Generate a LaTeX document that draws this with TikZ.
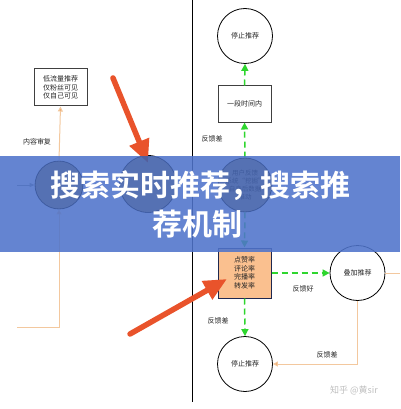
\documentclass[tikz,border=0pt]{standalone}
\usepackage{fontspec}
\setmainfont{Noto Sans CJK SC}[BoldFont={* Bold}]
\usetikzlibrary{arrows.meta,calc}
\definecolor{bannerblue}{RGB}{79,116,203}
\definecolor{dashgreen}{RGB}{46,214,46}
\definecolor{paleorange}{RGB}{243,200,158}
\definecolor{tipOrange}{RGB}{236,160,90}
\definecolor{redarrow}{RGB}{233,83,43}
\definecolor{peach}{RGB}{250,192,143}
\definecolor{navyline}{RGB}{30,40,80}
\tikzset{
  small/.style={font=\fontsize{7}{8.5}\selectfont, text=black!85},
  circ/.style={circle, draw=black, line width=0.8pt, fill=white, inner sep=0pt, minimum size=#1, small, align=center},
  boxnode/.style={rectangle, draw=black!75, line width=1pt, fill=white, inner sep=0pt, minimum width=53pt, minimum height=#1, small, align=center},
  greendash/.style={draw=dashgreen, line width=1.5pt, dash pattern=on 6pt off 4pt, -{Triangle[width=7pt,length=7pt]}},
  orangeline/.style={draw=paleorange, line width=1pt},
  orangearrow/.style={draw=paleorange, line width=1pt, -{Triangle[width=5pt,length=5pt,fill=tipOrange]}},
  redbig/.style={draw=redarrow, line width=5.5pt, line cap=round, -{Triangle[width=20pt,length=23pt]}},
  lbl/.style={small, inner sep=0pt},
}
\begin{document}
\begin{tikzpicture}[x=1pt,y=-1pt]
\useasboundingbox (0,0) rectangle (400,409);
\fill[white] (0,0) rectangle (400,409);

% divider
\coordinate (vtop) at (192,0);
\coordinate (vbot) at (192,402);
\draw[black, line width=0.9pt] (vtop) -- (vbot);

% left part
\node[boxnode=37pt] (b1) at (60.5,87.5) {低流量推荐\\仅粉丝可见\\仅自己可见};
\node[circ=48pt] (lc) at (59,185) {};
\node[circ=57pt] (mc) at (148,184) {};
\draw[orangearrow] (lc.north) -- (b1.south);
\node[lbl] (l1) at (37,142) {内容审复};
\coordinate (inL) at (17,185);
\draw[draw=gray, line width=0.8pt, -{Triangle[width=4pt,length=5pt]}] (inL) -- (lc.west);
\coordinate (botL) at (17,327);
\draw[orangearrow] (botL) -| (lc.south);

% right column
\node[circ=55pt] (ts) at (245,36) {停止推荐};
\node[boxnode=36pt] (tb) at (244.5,104) {一段时间内};
\node[circ=54pt, font=\fontsize{6.5}{8}\selectfont] (uc) at (245,185) {用户反馈\\系统“挖掘”\\自身后数据\\推动};
\node[boxnode=50pt, fill=peach, draw=navyline] (ob) at (244.5,273) {点赞率\\评论率\\完播率\\转发率};
\node[circ=55pt] (dj) at (357.5,273) {叠加推荐};
\node[circ=55pt] (bs) at (245,364) {停止推荐};

\draw[greendash] (uc.north) -- (tb.south);
\draw[greendash] (tb.north) -- (ts.south);
\draw[greendash] (uc.south) -- (ob.north);
\draw[greendash] (ob.east) -- (dj.west);
\draw[greendash] (ob.south) -- (bs.north);
\draw[orangearrow] (dj.south) |- (bs.east);
\coordinate (rEdge) at (400,273);
\draw[orangeline] (dj.east) -- (rEdge);

\node[lbl] (l2) at (212,139) {反馈差};
\node[lbl] (l3) at (303,289) {反馈好};
\node[lbl] (l4) at (218,321) {反馈差};
\node[lbl] (l5) at (327,355) {反馈差};

% red arrows
\coordinate (r1s) at (113,78);
\coordinate (r1e) at (148,163);
\draw[redbig] (r1s) -- (r1e);
\coordinate (r2s) at (130,334);
\coordinate (r2e) at (227,279);
\draw[redbig] (r2s) -- (r2e);

% watermark
\node[font=\fontsize{9}{10}\selectfont, text=black!25, inner sep=0pt] (wm) at (354,390) {知乎 @黄sir};

% banner
\fill[bannerblue, opacity=0.88] (0,156) rectangle (400,252);
\begin{scope}
  \clip (0,156) rectangle (400,252);
  \fill[black, opacity=0.14] (lc) circle (24);
  \fill[black, opacity=0.14] (mc) circle (28.5);
  \fill[black, opacity=0.14] (uc) circle (27);
\end{scope}
\node[font=\fontsize{30}{34}\selectfont\bfseries, text=white, inner sep=0pt] (t1) at (200,186) {搜索实时推荐，搜索推};
\node[font=\fontsize{30}{34}\selectfont\bfseries, text=white, inner sep=0pt] (t2) at (197,224) {荐机制};
\end{tikzpicture}
\end{document}
